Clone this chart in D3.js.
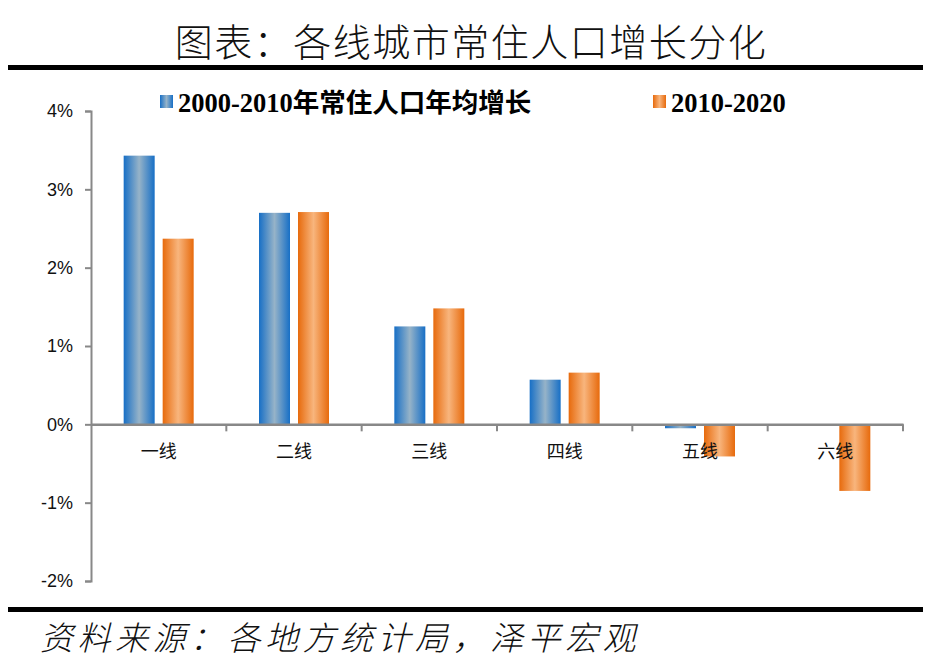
<!DOCTYPE html>
<html><head><meta charset="utf-8">
<script src="https://cdn.jsdelivr.net/npm/d3@7/dist/d3.min.js"></script>
<style>body{margin:0;background:#fff;} svg{display:block;}</style>
</head><body>
<script>
const categories = ["一线","二线","三线","四线","五线","六线"];
const series1 = [3.43, 2.70, 1.25, 0.57, -0.05, 0];
const series2 = [2.37, 2.71, 1.48, 0.66, -0.41, -0.85];
const seriesNames = ["2000-2010年常住人口年均增长", "2010-2020"];
const yTicks = [4,3,2,1,0,-1,-2];

const W = 939, H = 670;
const svg = d3.select("body").append("svg").attr("width", W).attr("height", H);
const defs = svg.append("defs");
function grad(id, edge, mid){
  const g = defs.append("linearGradient").attr("id", id).attr("x1","0").attr("x2","1").attr("y1","0").attr("y2","0");
  g.append("stop").attr("offset","0").attr("stop-color",edge);
  g.append("stop").attr("offset","0.5").attr("stop-color",mid);
  g.append("stop").attr("offset","1").attr("stop-color",edge);
}
grad("gBlue", "#176fc6", "#96b3c8");
grad("gOrange", "#e76a0c", "#f8b57d");

// title
svg.append("text").attr("x", 471).attr("y", 56).attr("text-anchor","middle")
  .attr("font-family","'Noto Sans CJK SC'").attr("font-weight",300).attr("font-size",38)
  .attr("letter-spacing",1.5)
  .attr("fill","#111").text("图表：各线城市常住人口增长分化");
svg.append("rect").attr("x",8).attr("y",65).attr("width",915).attr("height",5).attr("fill","#000");
svg.append("rect").attr("x",8).attr("y",607).attr("width",915).attr("height",5).attr("fill","#000");
svg.append("text").attr("x", 40).attr("y", 650)
  .attr("font-family","'Noto Sans CJK SC'").attr("font-weight",300).attr("font-size",33)
  .attr("font-style","italic").attr("letter-spacing",4.5)
  .attr("fill","#111").text("资料来源：各地方统计局，泽平宏观");

const x0 = d3.scaleBand().domain(categories).range([91, 903]);
const y = d3.scaleLinear().domain([-2, 4]).range([581, 111]);
const barW = 31, gap = 8;

// y axis
const yAxis = svg.append("g").attr("transform","translate(91,0)")
  .call(d3.axisLeft(y).tickValues(yTicks).tickSize(6).tickFormat(d => d + "%"));
yAxis.select(".domain").attr("stroke","#888").attr("stroke-width",2);
yAxis.selectAll(".tick line").attr("stroke","#888").attr("stroke-width",2);
yAxis.selectAll(".tick text").attr("font-family","'Liberation Sans', Arial").attr("font-size",18).attr("fill","#111").attr("x",-18);

// bars
const g = svg.append("g");
categories.forEach((c, i) => {
  const cx = x0(c) + x0.bandwidth()/2;
  [[series1[i], "url(#gBlue)", cx - gap/2 - barW], [series2[i], "url(#gOrange)", cx + gap/2]].forEach(([v, f, bx]) => {
    if (v === 0) return;
    const top = y(Math.max(0, v)), bot = y(Math.min(0, v));
    g.append("rect").attr("x", bx).attr("y", top).attr("width", barW).attr("height", Math.max(3, bot - top)).attr("fill", f);
  });
});

// x axis at zero
const xAxis = svg.append("g").attr("transform", `translate(0,${y(0)})`)
  .call(d3.axisBottom(x0).tickSize(0).tickPadding(21));
xAxis.select(".domain").attr("stroke","#888").attr("stroke-width",2.5);
xAxis.selectAll(".tick text").attr("font-family","'Noto Sans CJK SC'").attr("font-size",18).attr("fill","#111");
// category boundary ticks
const bounds = categories.map(c => x0(c) + x0.bandwidth());
svg.append("g").selectAll("line").data(bounds).join("line")
  .attr("x1", d => d).attr("x2", d => d).attr("y1", y(0)).attr("y2", y(0) + 7)
  .attr("stroke","#888").attr("stroke-width",2);

// legend
const leg = [{x:160, name:seriesNames[0], f:"url(#gBlue)"}, {x:653, name:seriesNames[1], f:"url(#gOrange)"}];
leg.forEach(l => {
  svg.append("rect").attr("x", l.x).attr("y", 95).attr("width", 13).attr("height", 13).attr("fill", l.f);
  svg.append("text").attr("x", l.x + 18).attr("y", 112)
    .attr("font-family","'Liberation Serif', 'Noto Sans CJK SC'").attr("font-weight","bold").attr("font-size",26.5)
    .attr("fill","#000").text(l.name);
});
</script>
</body></html>
